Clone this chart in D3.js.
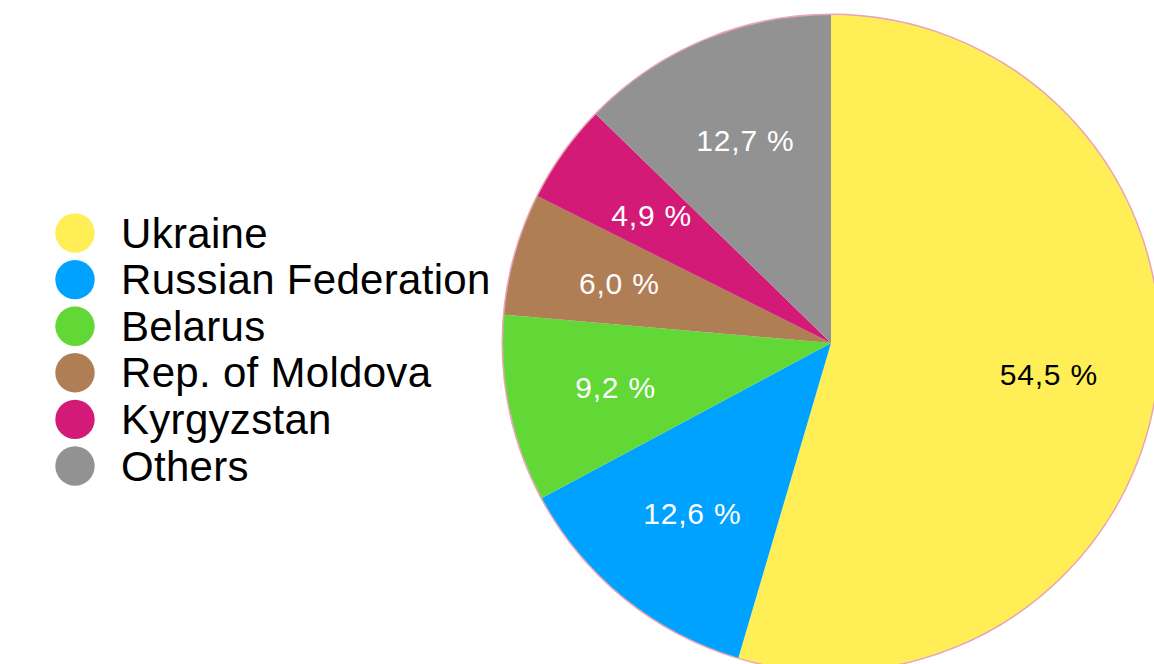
<!DOCTYPE html>
<html>
<head>
<meta charset="utf-8">
<script src="https://cdn.jsdelivr.net/npm/d3@7"></script>
<style>
  html, body { margin: 0; padding: 0; background: #fff; }
  svg { display: block; }
  text { font-family: "Liberation Sans", Arial, Helvetica, sans-serif; }
</style>
</head>
<body>
<svg id="chart" width="1154" height="664"></svg>
<script>
// Share of population by country of origin (%)
const countries = ["Ukraine", "Russian Federation", "Belarus", "Rep. of Moldova", "Kyrgyzstan", "Others"];
const shares = [54.5, 12.6, 9.2, 6.0, 4.9, 12.7];
const labels = ["54,5 %", "12,6 %", "9,2 %", "6,0 %", "4,9 %", "12,7 %"];
const colors = ["#FFEE55", "#00A2FF", "#61D836", "#AF7E55", "#D31A76", "#929292"];
const labelColors = ["#000000", "#ffffff", "#ffffff", "#ffffff", "#ffffff", "#ffffff"];

const data = countries.map((c, i) => ({ country: c, value: shares[i], label: labels[i], i }));

const svg = d3.select("#chart");

const cx = 831, cy = 343, R = 328, labelR = 220;

const color = d3.scaleOrdinal().domain(countries).range(colors);

const pie = d3.pie().value(d => d.value).sort(null);
const arcs = pie(data);
const arc = d3.arc().innerRadius(0).outerRadius(R);
const labelArc = d3.arc().innerRadius(labelR).outerRadius(labelR);

const g = svg.append("g").attr("transform", `translate(${cx},${cy})`);

// faint rim around the pie
g.append("circle")
  .attr("r", R + 0.5)
  .attr("fill", "none")
  .attr("stroke", "#E9A6B6")
  .attr("stroke-width", 2);

g.selectAll("path.slice")
  .data(arcs)
  .join("path")
  .attr("class", "slice")
  .attr("d", arc)
  .attr("fill", d => color(d.data.country));

g.selectAll("text.val")
  .data(arcs)
  .join("text")
  .attr("class", "val")
  .attr("transform", d => `translate(${labelArc.centroid(d)})`)
  .attr("text-anchor", "middle")
  .attr("dominant-baseline", "central")
  .attr("font-size", 30)
  .attr("letter-spacing", 0.8)
  .attr("fill", d => labelColors[d.data.i])
  .text(d => d.data.label);

// legend
const legendY = d3.scalePoint().domain(countries).range([233, 466]);
const legend = svg.append("g");
const rows = legend.selectAll("g.row")
  .data(countries)
  .join("g")
  .attr("class", "row")
  .attr("transform", d => `translate(0,${legendY(d)})`);

rows.append("circle")
  .attr("cx", 75)
  .attr("r", 19.7)
  .attr("fill", d => color(d));

rows.append("text")
  .attr("x", 121)
  .attr("y", 14.5)
  .attr("font-size", 42)
  .attr("letter-spacing", 0.3)
  .attr("fill", "#000")
  .text(d => d);
</script>
</body>
</html>
